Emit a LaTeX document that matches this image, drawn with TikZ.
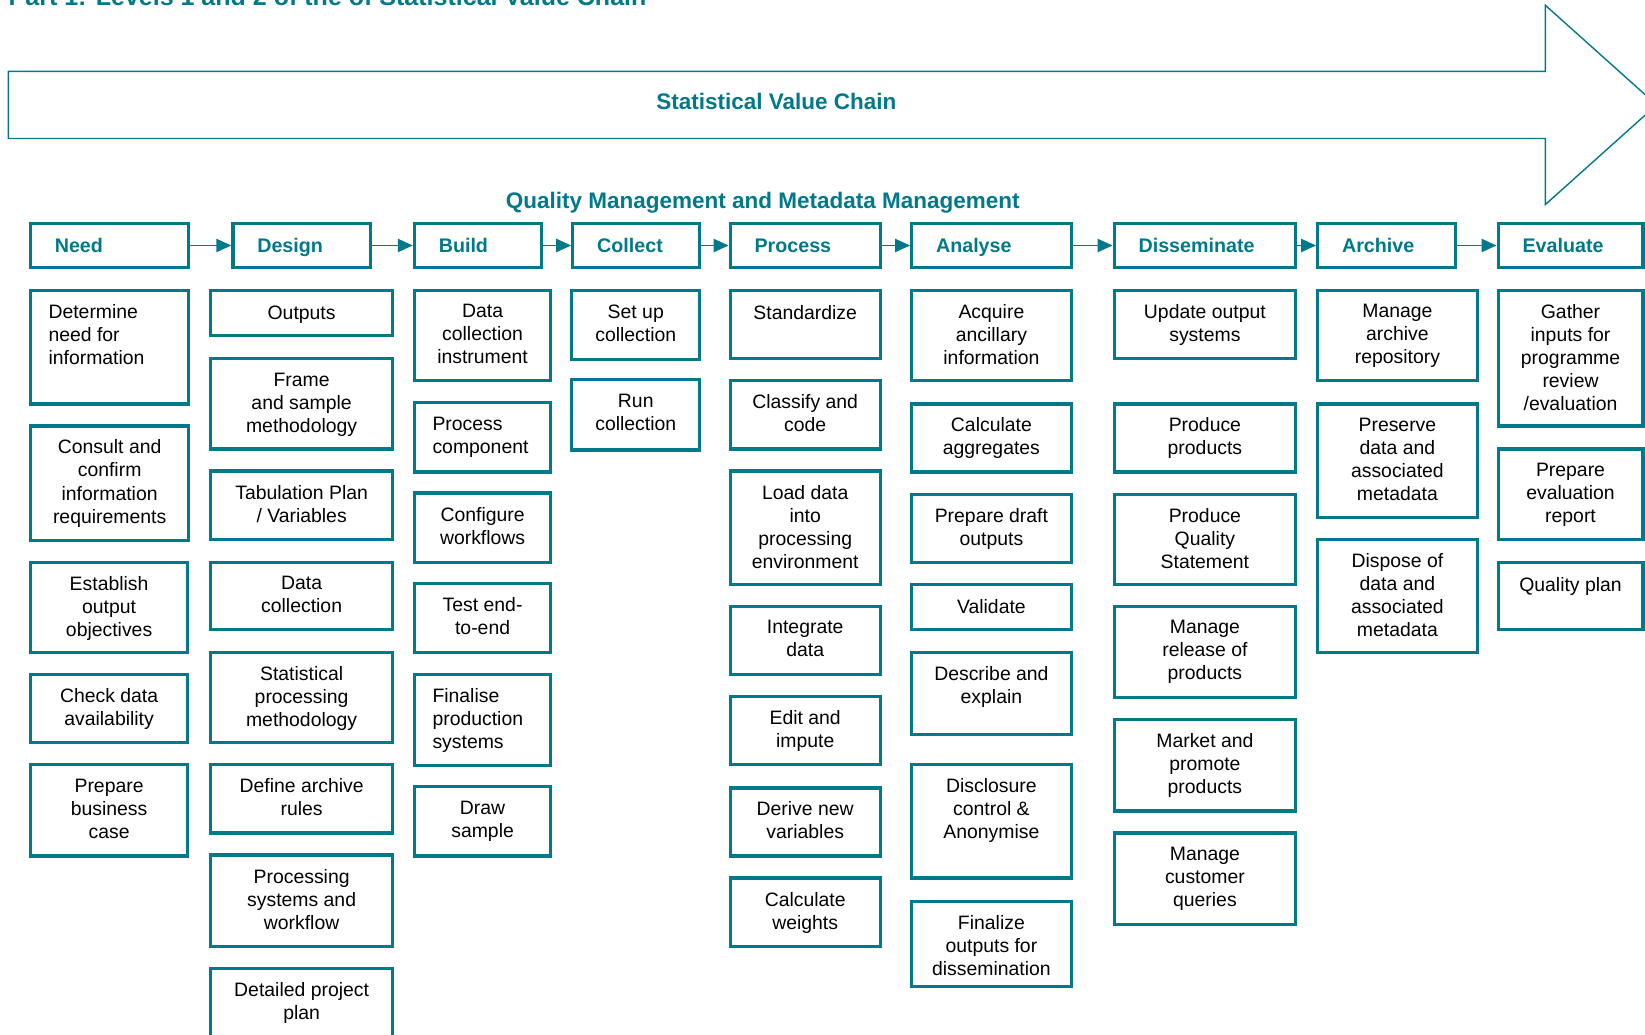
\documentclass[tikz,border=0pt]{standalone}
\usepackage{fontspec}
\setmainfont{Liberation Sans}
\usetikzlibrary{arrows.meta,fit}
\definecolor{svcteal}{RGB}{0,121,138}
\begin{document}
\begin{tikzpicture}[x=0.026225cm, y=-0.026225cm,
  phasebox/.style={draw=svcteal, line width=2.3pt, inner sep=0pt},
  taskbox/.style={draw=svcteal, line width=2.3pt, inner sep=0pt},
  phasetext/.style={text=svcteal, font=\fontsize{14}{16}\selectfont\bfseries, anchor=base west, inner sep=0pt},
  tasktext/.style={font=\fontsize{13.8}{16.4}\selectfont, align=center, anchor=north, inner sep=0pt,
    execute at begin node=\rule{0pt}{11pt}},
  taskleft/.style={tasktext, align=left, anchor=north west},
  flow/.style={draw=svcteal, line width=1.3pt, -{Triangle[length=3.75mm,width=3.3mm]}},
  banner/.style={text=svcteal, font=\fontsize{16}{18}\selectfont\bfseries, inner sep=0pt}]
  \useasboundingbox (0,0) rectangle (1568,986);
  % title, cut at the top
  \node[text=svcteal, font=\fontsize{17.8}{20}\selectfont\bfseries, anchor=base west, inner sep=0pt] (title) at (8,5) {Part 1: Levels 1 and 2 of the of Statistical Value Chain};
  % big arrow
  \draw[svcteal, line width=1pt, line join=miter] (8,68) -- (1473,68) -- (1473,5) -- (1579,100) -- (1473,195) -- (1473,132) -- (8,132) -- cycle;
  \node[banner] (svc) at (740,97) {Statistical Value Chain};
  \node[banner] (qmm) at (727,193) {Quality Management and Metadata Management};

  % phases
  \node[phasebox, fit={(29,213) (180,255)}] (need) {};
  \node[phasebox, fit={(222,213) (353,255)}] (design) {};
  \node[phasebox, fit={(395,213) (516,255)}] (build) {};
  \node[phasebox, fit={(546,213) (667,255)}] (collect) {};
  \node[phasebox, fit={(696,213) (839,255)}] (process) {};
  \node[phasebox, fit={(869,213) (1021,255)}] (analyse) {};
  \node[phasebox, fit={(1062,213) (1235,255)}] (disseminate) {};
  \node[phasebox, fit={(1256,213) (1387,255)}] (archive) {};
  \node[phasebox, fit={(1428,213) (1566,255)}] (evaluate) {};
  \node[phasetext] (needlbl) at (52,241) {Need};
  \node[phasetext] (designlbl) at (245,241) {Design};
  \node[phasetext] (buildlbl) at (418,241) {Build};
  \node[phasetext] (collectlbl) at (569,241) {Collect};
  \node[phasetext] (processlbl) at (719,241) {Process};
  \node[phasetext] (analyselbl) at (892,241) {Analyse};
  \node[phasetext] (disseminatelbl) at (1085,241) {Disseminate};
  \node[phasetext] (archivelbl) at (1279,241) {Archive};
  \node[phasetext] (evaluatelbl) at (1451,241) {Evaluate};
  \draw[flow] (need) -- (design);
  \draw[flow] (design) -- (build);
  \draw[flow] (build) -- (collect);
  \draw[flow] (collect) -- (process);
  \draw[flow] (process) -- (analyse);
  \draw[flow] (analyse) -- (disseminate);
  \draw[flow] (disseminate) -- (archive);
  \draw[flow] (archive) -- (evaluate);

  % need
  \node[taskbox, fit={(29,277) (180,385)}] (determine) {};
  \node[taskleft] (determinetxt) at (46,290) {Determine\\need for\\information};
  \node[taskbox, fit={(29,406) (180,515)}] (consult) {};
  \node[tasktext] (consulttxt) at (104.5,419) {Consult and\\confirm\\information\\requirements};
  \node[taskbox, fit={(29,536) (179,622)}] (establish) {};
  \node[tasktext] (establishtxt) at (104,549) {Establish\\output\\objectives};
  \node[taskbox, fit={(29,643) (179,708)}] (check) {};
  \node[tasktext] (checktxt) at (104,656) {Check data\\availability};
  \node[taskbox, fit={(29,729) (179,816)}] (business) {};
  \node[tasktext] (businesstxt) at (104,742) {Prepare\\business\\case};

  % design
  \node[taskbox, fit={(201,277) (374,320)}] (outputs) {};
  \node[tasktext] (outputstxt) at (287.5,290) {Outputs};
  \node[taskbox, fit={(201,342) (374,428)}] (frame) {};
  \node[tasktext] (frametxt) at (287.5,355) {Frame\\and sample\\methodology};
  \node[taskbox, fit={(201,449) (374,514)}] (tabulation) {};
  \node[tasktext] (tabulationtxt) at (287.5,462) {Tabulation Plan\\/ Variables};
  \node[taskbox, fit={(201,536) (374,600)}] (datacoll) {};
  \node[tasktext] (datacolltxt) at (287.5,549) {Data\\collection};
  \node[taskbox, fit={(201,622) (374,708)}] (statproc) {};
  \node[tasktext] (statproctxt) at (287.5,635) {Statistical\\processing\\methodology};
  \node[taskbox, fit={(201,729) (374,794)}] (archrules) {};
  \node[tasktext] (archrulestxt) at (287.5,742) {Define archive\\rules};
  \node[taskbox, fit={(201,815) (374,902)}] (procsys) {};
  \node[tasktext] (procsystxt) at (287.5,828) {Processing\\systems and\\workflow};
  \node[taskbox, fit={(201,923) (374,1010)}] (projplan) {};
  \node[tasktext] (projplantxt) at (287.5,936) {Detailed project\\plan};

  % build
  \node[taskbox, fit={(395,277) (525,363)}] (instrument) {};
  \node[tasktext] (instrumenttxt) at (460,290) {Data\\collection\\instrument};
  \node[taskbox, fit={(395,384) (525,450)}] (component) {};
  \node[taskleft] (componenttxt) at (412,397) {Process\\component};
  \node[taskbox, fit={(395,470) (525,536)}] (configure) {};
  \node[tasktext] (configuretxt) at (460,483) {Configure\\workflows};
  \node[taskbox, fit={(395,556) (525,622)}] (testend) {};
  \node[tasktext] (testendtxt) at (460,569) {Test end-\\to-end};
  \node[taskbox, fit={(395,643) (525,730)}] (finalise) {};
  \node[taskleft] (finalisetxt) at (412,656) {Finalise\\production\\systems};
  \node[taskbox, fit={(395,750) (525,816)}] (drawsample) {};
  \node[tasktext] (drawsampletxt) at (460,763) {Draw\\sample};

  % collect
  \node[taskbox, fit={(545,277) (667,343)}] (setup) {};
  \node[tasktext] (setuptxt) at (606,290) {Set up\\collection};
  \node[taskbox, fit={(545,362) (667,429)}] (run) {};
  \node[tasktext] (runtxt) at (606,375) {Run\\collection};

  % process
  \node[taskbox, fit={(696,277) (839,342)}] (standardize) {};
  \node[tasktext] (standardizetxt) at (767.5,290) {Standardize};
  \node[taskbox, fit={(696,363) (839,428)}] (classify) {};
  \node[tasktext] (classifytxt) at (767.5,376) {Classify and\\code};
  \node[taskbox, fit={(696,449) (839,557)}] (load) {};
  \node[tasktext] (loadtxt) at (767.5,462) {Load data\\into\\processing\\environment};
  \node[taskbox, fit={(696,578) (839,643)}] (integrate) {};
  \node[tasktext] (integratetxt) at (767.5,591) {Integrate\\data};
  \node[taskbox, fit={(696,664) (839,729)}] (edit) {};
  \node[tasktext] (edittxt) at (767.5,677) {Edit and\\impute};
  \node[taskbox, fit={(696,751) (839,816)}] (derive) {};
  \node[tasktext] (derivetxt) at (767.5,764) {Derive new\\variables};
  \node[taskbox, fit={(696,837) (839,902)}] (weights) {};
  \node[tasktext] (weightstxt) at (767.5,850) {Calculate\\weights};

  % analyse
  \node[taskbox, fit={(869,277) (1021,363)}] (acquire) {};
  \node[tasktext] (acquiretxt) at (945,290) {Acquire\\ancillary\\information};
  \node[taskbox, fit={(869,385) (1021,450)}] (aggregates) {};
  \node[tasktext] (aggregatestxt) at (945,398) {Calculate\\aggregates};
  \node[taskbox, fit={(869,471) (1021,536)}] (draft) {};
  \node[tasktext] (drafttxt) at (945,484) {Prepare draft\\outputs};
  \node[taskbox, fit={(869,557) (1021,600)}] (validate) {};
  \node[tasktext] (validatetxt) at (945,570) {Validate};
  \node[taskbox, fit={(869,622) (1021,700)}] (describe) {};
  \node[tasktext] (describetxt) at (945,635) {Describe and\\explain};
  \node[taskbox, fit={(869,729) (1021,837)}] (disclosure) {};
  \node[tasktext] (disclosuretxt) at (945,742) {Disclosure\\control \&\\Anonymise};
  \node[taskbox, fit={(869,859) (1021,940)}] (finalize) {};
  \node[tasktext] (finalizetxt) at (945,872) {Finalize\\outputs for\\dissemination};

  % disseminate
  \node[taskbox, fit={(1062,277) (1235,342)}] (update) {};
  \node[tasktext] (updatetxt) at (1148.5,290) {Update output\\systems};
  \node[taskbox, fit={(1062,385) (1235,450)}] (produce) {};
  \node[tasktext] (producetxt) at (1148.5,398) {Produce\\products};
  \node[taskbox, fit={(1062,471) (1235,557)}] (qstatement) {};
  \node[tasktext] (qstatementtxt) at (1148.5,484) {Produce\\Quality\\Statement};
  \node[taskbox, fit={(1062,578) (1235,665)}] (release) {};
  \node[tasktext] (releasetxt) at (1148.5,591) {Manage\\release of\\products};
  \node[taskbox, fit={(1062,686) (1235,773)}] (market) {};
  \node[tasktext] (markettxt) at (1148.5,699) {Market and\\promote\\products};
  \node[taskbox, fit={(1062,794) (1235,881)}] (queries) {};
  \node[tasktext] (queriestxt) at (1148.5,807) {Manage\\customer\\queries};

  % archive
  \node[taskbox, fit={(1256,277) (1408,363)}] (repository) {};
  \node[tasktext] (repositorytxt) at (1332,290) {Manage\\archive\\repository};
  \node[taskbox, fit={(1256,385) (1408,493)}] (preserve) {};
  \node[tasktext] (preservetxt) at (1332,398) {Preserve\\data and\\associated\\metadata};
  \node[taskbox, fit={(1256,514) (1408,622)}] (dispose) {};
  \node[tasktext] (disposetxt) at (1332,527) {Dispose of\\data and\\associated\\metadata};

  % evaluate
  \node[taskbox, fit={(1428,277) (1566,406)}] (gather) {};
  \node[tasktext] (gathertxt) at (1497,290) {Gather\\inputs for\\programme\\review\\/evaluation};
  \node[taskbox, fit={(1428,428) (1566,514)}] (evalreport) {};
  \node[tasktext] (evalreporttxt) at (1497,441) {Prepare\\evaluation\\report};
  \node[taskbox, fit={(1428,536) (1566,600)}] (qplan) {};
  \node[tasktext] (qplantxt) at (1497,549) {Quality plan};
\end{tikzpicture}
\end{document}
